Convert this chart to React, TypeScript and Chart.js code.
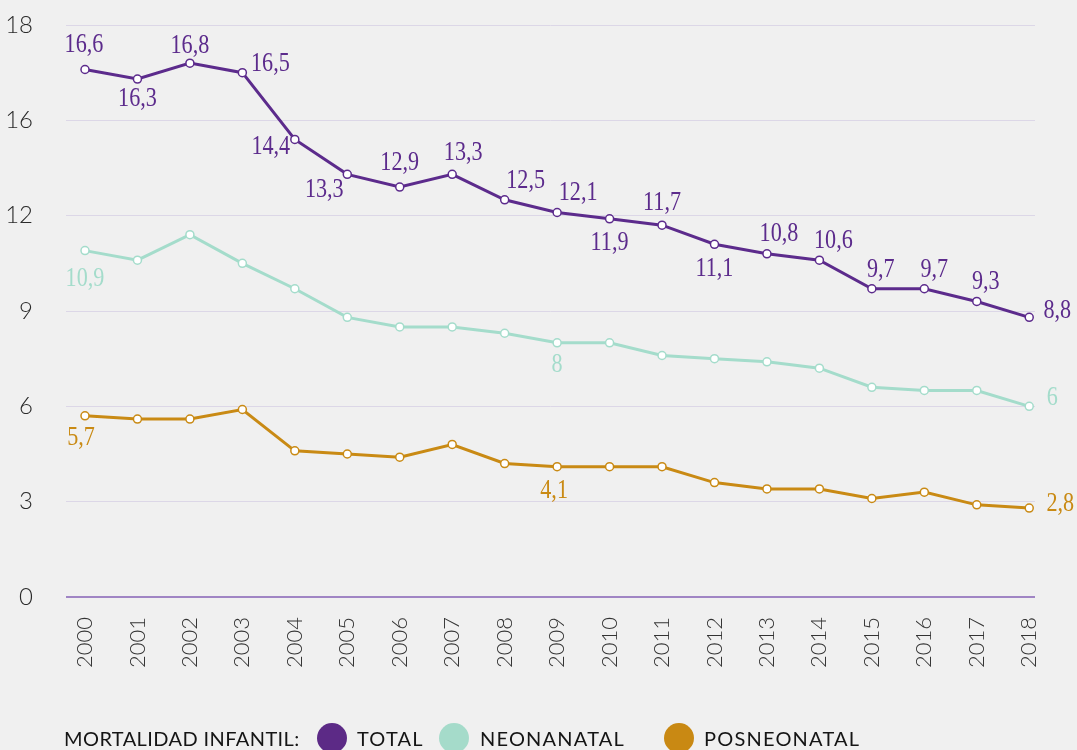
import React, { useEffect, useRef } from 'react';
import { Chart, registerables } from 'chart.js';

Chart.register(...registerables);

const years = [2000, 2001, 2002, 2003, 2004, 2005, 2006, 2007, 2008, 2009, 2010, 2011, 2012, 2013, 2014, 2015, 2016, 2017, 2018];
const totalValues = [16.6, 16.3, 16.8, 16.5, 14.4, 13.3, 12.9, 13.3, 12.5, 12.1, 11.9, 11.7, 11.1, 10.8, 10.6, 9.7, 9.7, 9.3, 8.8];
const neonatalValues = [10.9, 10.6, 11.4, 10.5, 9.7, 8.8, 8.5, 8.5, 8.3, 8.0, 8.0, 7.6, 7.5, 7.4, 7.2, 6.6, 6.5, 6.5, 6.0];
const posneonatalValues = [5.7, 5.6, 5.6, 5.9, 4.6, 4.5, 4.4, 4.8, 4.2, 4.1, 4.1, 4.1, 3.6, 3.4, 3.4, 3.1, 3.3, 2.9, 2.8];
const yTickValues = [0, 3, 6, 9, 12, 15, 18];
const yTickLabels = ['0', '3', '6', '9', '12', '16', '18'];
const seriesNames = ['TOTAL', 'NEONANATAL', 'POSNEONATAL'];
const legendTitle = 'MORTALIDAD INFANTIL:';

// style / placement (not data)
const colors = ['#5c2b8c', '#a4dccb', '#c98a14'];
const legendColors = ['#5c2a86', '#a5dbca', '#c98913'];
// [pointIndex, dx, dy] for value labels
const labelOffsets: number[][][] = [
  [
    [0, -1, -25], [1, 0, 20], [2, 0, -17], [3, 28, -9], [4, -24, 8], [5, -23, 16],
    [6, 0, -24], [7, 11, -21], [8, 21, -19], [9, 21, -20], [10, 0, 24], [11, 0, -22],
    [12, 0, 25], [13, 12, -20], [14, 14, -19], [15, 9, -19], [16, 10, -19], [17, 9, -20], [18, 28, -6],
  ],
  [[0, 0, 28], [9, 0, 22], [18, 23, -8]],
  [[0, -4, 22], [9, -3, 24], [18, 31, -4]],
];

const bgPlugin = {
  id: 'bg',
  beforeDraw(chart: any) {
    const { ctx, width, height } = chart;
    ctx.save();
    ctx.fillStyle = '#f0f0f0';
    ctx.fillRect(0, 0, width, height);
    ctx.restore();
  },
};

const valueLabelPlugin = {
  id: 'valueLabels',
  afterDatasetsDraw(chart: any) {
    const ctx = chart.ctx;
    chart.data.datasets.forEach((ds: any, di: number) => {
      const meta = chart.getDatasetMeta(di);
      labelOffsets[di].forEach(([i, dx, dy]) => {
        const el = meta.data[i];
        if (!el) return;
        const v = ds.data[i].y;
        ctx.save();
        ctx.translate(el.x + dx, el.y + dy);
        ctx.scale(0.82, 1);
        ctx.font = '27px "Liberation Serif", "DejaVu Serif", serif';
        ctx.fillStyle = colors[di];
        ctx.textAlign = 'center';
        ctx.textBaseline = 'middle';
        ctx.fillText(String(v).replace('.', ','), 0, 0);
        ctx.restore();
      });
    });
  },
};

const legendPlugin = {
  id: 'customLegend',
  afterDraw(chart: any) {
    const ctx = chart.ctx;
    const baseY = 746;
    const cy = 738;
    ctx.save();
    ctx.font = '20px Lato, "Noto Sans", sans-serif';
    ctx.fillStyle = '#151515';
    ctx.textAlign = 'left';
    ctx.textBaseline = 'alphabetic';
    (ctx as any).letterSpacing = '0.4px';
    ctx.fillText(legendTitle, 64, baseY);
    const circleX = [332, 454, 679];
    const textX = [357, 480, 704];
    (ctx as any).letterSpacing = '1.2px';
    seriesNames.forEach((name, i) => {
      ctx.beginPath();
      ctx.arc(circleX[i], cy, 15, 0, Math.PI * 2);
      ctx.fillStyle = legendColors[i];
      ctx.fill();
      ctx.fillStyle = '#151515';
      ctx.fillText(name, textX[i], baseY);
    });
    ctx.restore();
  },
};

export default function App() {
  const canvasRef = useRef<HTMLCanvasElement | null>(null);

  useEffect(() => {
    document.body.style.margin = '0';
    document.body.style.background = '#f0f0f0';
    const canvas = canvasRef.current;
    if (!canvas) return;
    const seriesValues = [totalValues, neonatalValues, posneonatalValues];
    const chart = new Chart(canvas, {
      type: 'line',
      data: {
        datasets: seriesValues.map((vals, si) => ({
          label: seriesNames[si],
          data: vals.map((v, i) => ({ x: years[i], y: v })),
          borderColor: colors[si],
          borderWidth: 3,
          pointRadius: 4,
          pointBorderWidth: 1.5,
          pointBackgroundColor: '#ffffff',
          pointBorderColor: colors[si],
          tension: 0,
          fill: false,
          clip: false as any,
        })),
      },
      options: {
        animation: false,
        responsive: false,
        devicePixelRatio: 1,
        layout: { padding: { top: 25, right: 42, left: 0, bottom: 0 } },
        plugins: {
          legend: { display: false },
          tooltip: { enabled: false },
        },
        scales: {
          x: {
            type: 'linear',
            min: 1999.638,
            max: 2018.11,
            afterFit(scale: any) {
              scale.height = 153;
            },
            afterBuildTicks(scale: any) {
              scale.ticks = years.map((v) => ({ value: v }));
            },
            grid: { display: false, drawTicks: false },
            border: { display: false },
            ticks: {
              autoSkip: false,
              maxRotation: 90,
              minRotation: 90,
              padding: 20,
              color: '#333333',
              font: { family: 'Lato, "Noto Sans", sans-serif', size: 22, weight: 300 as any },
              callback: (_v: any, i: number) => String(years[i]),
            },
          },
          y: {
            type: 'linear',
            min: 0,
            max: 18,
            afterFit(scale: any) {
              scale.width = 66;
              scale.paddingTop = 12;
              scale.paddingBottom = 12;
            },
            afterBuildTicks(scale: any) {
              scale.ticks = yTickValues.map((v) => ({ value: v }));
            },
            grid: {
              drawTicks: false,
              color: (c: any) => (c.tick && c.tick.value === 0 ? '#a085c4' : '#dcd7e7'),
              lineWidth: (c: any) => (c.tick && c.tick.value === 0 ? 2 : 1),
            },
            border: { display: false },
            ticks: {
              padding: 33,
              color: '#2a2a2a',
              font: { family: 'Lato, "Noto Sans", sans-serif', size: 24, weight: 300 as any },
              callback: (_v: any, i: number) => yTickLabels[i],
            },
          },
        },
      },
      plugins: [bgPlugin, valueLabelPlugin, legendPlugin],
    });
    return () => chart.destroy();
  }, []);

  return (
    <div style={{ width: 1077, height: 750, background: '#f0f0f0' }}>
      <canvas ref={canvasRef} width={1077} height={750} style={{ display: 'block' }} />
    </div>
  );
}
